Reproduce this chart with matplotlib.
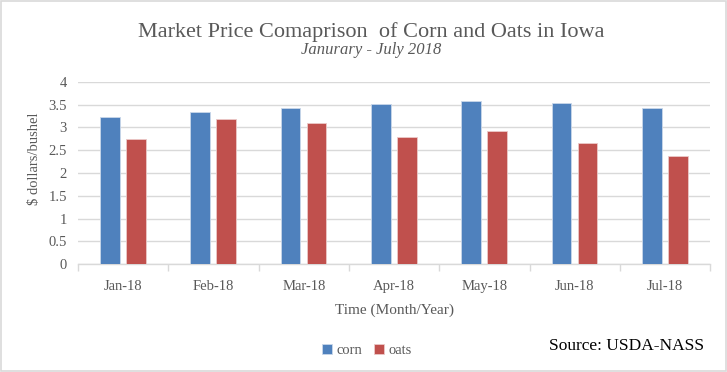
import matplotlib.pyplot as plt
import numpy as np
from matplotlib.patches import Rectangle

months = ["Jan-18", "Feb-18", "Mar-18", "Apr-18", "May-18", "Jun-18", "Jul-18"]
corn = [3.24, 3.33, 3.43, 3.52, 3.57, 3.53, 3.42]
oats = [2.75, 3.18, 3.09, 2.78, 2.93, 2.67, 2.37]

blue = "#4F81BD"
red = "#C0504D"
grey = "#595959"
serif = "Liberation Serif"

fig = plt.figure(figsize=(7.27, 3.72), dpi=100)
ax = fig.add_axes([0.1073, 0.2895, 0.8697, 0.4905])

x = np.arange(len(months))
w = 0.22
ax.bar(x - 0.147, corn, w, color=blue, edgecolor="#C9D7EA", linewidth=0.6, label="corn", zorder=3)
ax.bar(x + 0.141, oats, w, color=red, edgecolor="#EBC9C8", linewidth=0.6, label="oats", zorder=3)

ax.set_xlim(-0.5, len(months) - 0.5)
ax.set_ylim(0, 4)
ax.set_yticks(np.arange(0, 4.01, 0.5))
ax.set_yticklabels(["0", "0.5", "1", "1.5", "2", "2.5", "3", "3.5", "4"])
ax.yaxis.grid(True, color="#D9D9D9", linewidth=1, zorder=0)
ax.set_xticks(x)
ax.set_xticklabels(months)
ax.set_xticks(np.arange(-0.5, len(months), 1), minor=True)
ax.tick_params(axis="x", which="major", length=0, pad=11, labelsize=10.5, labelcolor=grey)
ax.tick_params(axis="x", which="minor", length=5, color="#D9D9D9", width=1)
ax.tick_params(axis="y", length=0, pad=8, labelsize=10.5, labelcolor=grey)
for lab in ax.get_xticklabels() + ax.get_yticklabels():
    lab.set_family(serif)

for s in ["top", "right", "left"]:
    ax.spines[s].set_visible(False)
ax.spines["bottom"].set_color("#D9D9D9")
ax.spines["bottom"].set_linewidth(1)

ax.set_xlabel("Time (Month/Year)", family=serif, fontsize=11, color=grey, labelpad=8)
ax.set_ylabel("$ dollars/bushel", family=serif, fontsize=10.5, color=grey)
ax.yaxis.set_label_coords(-0.058, 0.58)

fig.text(0.511, 0.915, "Market Price Comaprison  of Corn and Oats in Iowa", ha="center", va="center",
         family=serif, fontsize=16, color=grey)
fig.text(0.511, 0.865, "Janurary - July 2018", ha="center", va="center",
         family=serif, style="italic", fontsize=12, color=grey)

leg = fig.legend(loc="center", bbox_to_anchor=(0.505, 0.057), ncol=2, frameon=False,
                 prop={"family": serif, "size": 10.5}, handlelength=0.7, handleheight=0.7,
                 handletextpad=0.3, columnspacing=0.8)
for t in leg.get_texts():
    t.set_color(grey)

fig.text(0.968, 0.07, "Source: USDA-NASS", ha="right", va="center", family=serif, fontsize=12.5, color="black")

fig.patches.append(Rectangle((0.002, 0.003), 0.996, 0.994, transform=fig.transFigure,
                             fill=False, edgecolor="#D9D9D9", linewidth=1.2))

fig.savefig("out.png", dpi=100)
